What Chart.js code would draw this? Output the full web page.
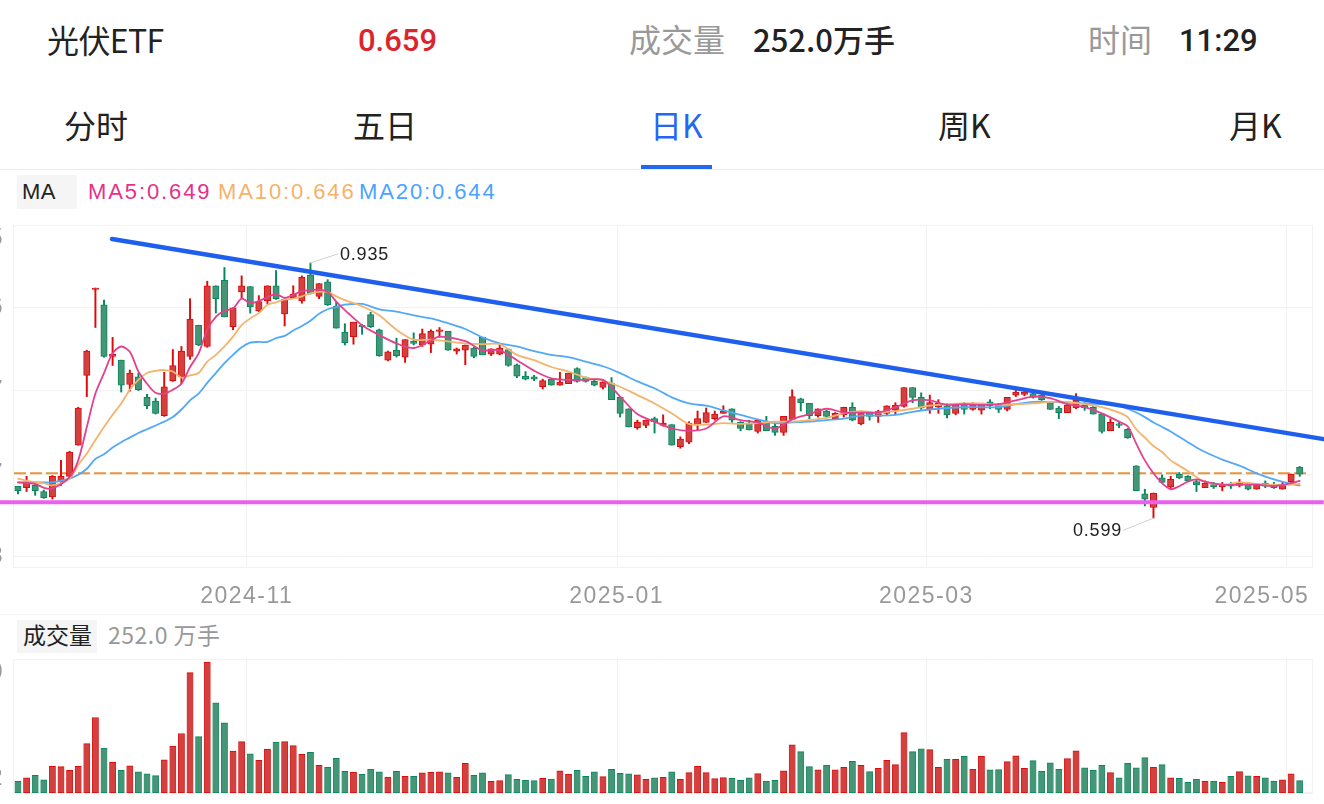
<!DOCTYPE html>
<html>
<head>
<meta charset="utf-8">
<title>光伏ETF</title>
<script src="https://cdn.jsdelivr.net/npm/chart.js@4/dist/chart.umd.min.js"></script>
<style>
html, body { margin: 0; padding: 0; background: #fff; }
body { width: 1324px; height: 804px; overflow: hidden; position: relative; font-family: "Noto Sans CJK SC", "Liberation Sans", sans-serif; }
canvas { position: absolute; left: -60px; }
#kChart { top: 185px; }
#volChart { top: 619px; }
.t { position: absolute; white-space: nowrap; line-height: 1; }
.big { font-size: 32px; color: #222; }
.grey { color: #999; }
.num { font-family: Roboto, sans-serif; font-weight: 500; font-size: 31px; }
.latin { font-family: "Liberation Sans", sans-serif; letter-spacing: 1.9px; font-size: 22px; }
.mark { font-size: 18px; font-family: "Liberation Sans", sans-serif; letter-spacing: 0.8px; color: #222; }
.box { position: absolute; background: #f5f5f5; }
.rule { position: absolute; left: 0; width: 1324px; height: 1px; }
</style>
</head>
<body>
<div class="t big" style="left:47px;top:23px;letter-spacing:-0.6px">光伏ETF</div>
<div class="t big num" style="left:358px;top:25px;color:#d9262c">0.659</div>
<div class="t big grey" style="left:629px;top:22px">成交量</div>
<div class="t big" style="left:753px;top:23px;font-weight:500;font-size:31px">252.0万手</div>
<div class="t big grey" style="left:1088px;top:22px">时间</div>
<div class="t big num" style="left:1179px;top:25px">11:29</div>

<div class="t big" style="left:64px;top:108px">分时</div>
<div class="t big" style="left:353px;top:108px">五日</div>
<div class="t big" style="left:650px;top:108px;color:#2468f2">日K</div>
<div class="t big" style="left:938px;top:108px">周K</div>
<div class="t big" style="left:1229px;top:108px">月K</div>
<div style="position:absolute;left:641px;top:165px;width:71px;height:4px;background:#2468f2"></div>
<div class="rule" style="top:169px;background:#ececec"></div>
<div class="rule" style="top:614px;background:#f3f3f3"></div>

<div class="box" style="left:17px;top:175px;width:60px;height:34px"></div>
<div class="t latin" style="left:22px;top:181px;color:#222;letter-spacing:0.5px">MA</div>
<div class="t latin" style="left:88px;top:181px;color:#e6308a">MA5:0.649</div>
<div class="t latin" style="left:218px;top:181px;color:#f5b26b">MA10:0.646</div>
<div class="t latin" style="left:359px;top:181px;color:#4aa3ff">MA20:0.644</div>

<div class="box" style="left:17px;top:620px;width:80px;height:33px"></div>
<div class="t" style="left:23px;top:623px;font-size:23px;color:#222">成交量</div>
<div class="t" style="left:108px;top:623px;font-size:23px;color:#999;letter-spacing:0.5px">252.0 万手</div>

<canvas id="kChart" width="1384" height="435"></canvas>
<canvas id="volChart" width="1384" height="215"></canvas>

<div class="t mark" style="left:340px;top:245px">0.935</div>
<div class="t mark" style="left:1073px;top:521px">0.599</div>

<script>
//daily candles, oldest first
const opens = [0.641,0.639,0.642,0.634,0.627,0.647,0.654,0.695,0.787,0.900,
    0.880,0.812,0.807,0.775,0.785,0.758,0.753,0.734,0.780,0.785,
    0.812,0.853,0.825,0.905,0.912,0.851,0.897,0.904,0.872,0.885,
    0.905,0.868,0.889,0.885,0.919,0.891,0.910,0.878,0.844,0.838,
    0.853,0.867,0.847,0.807,0.820,0.811,0.832,0.827,0.828,0.845,
    0.845,0.819,0.820,0.823,0.837,0.815,0.815,0.821,0.801,0.786,
    0.785,0.772,0.782,0.774,0.776,0.796,0.784,0.779,0.771,0.776,
    0.758,0.743,0.718,0.721,0.730,0.721,0.722,0.693,0.699,0.722,
    0.725,0.730,0.737,0.743,0.725,0.724,0.713,0.726,0.720,0.712,
    0.729,0.756,0.750,0.734,0.740,0.730,0.735,0.745,0.723,0.738,
    0.733,0.737,0.741,0.746,0.771,0.758,0.742,0.745,0.747,0.737,
    0.750,0.742,0.741,0.752,0.748,0.742,0.761,0.762,0.763,0.761,
    0.751,0.744,0.738,0.744,0.748,0.745,0.736,0.714,0.723,0.716,
    0.668,0.631,0.613,0.652,0.640,0.657,0.654,0.647,0.639,0.643,
    0.640,0.643,0.642,0.644,0.637,0.645,0.642,0.637,0.647,0.666];
const closes = [0.635,0.645,0.635,0.626,0.654,0.654,0.686,0.744,0.819,0.902,
    0.812,0.815,0.774,0.790,0.768,0.747,0.737,0.772,0.800,0.819,
    0.861,0.827,0.905,0.888,0.864,0.876,0.905,0.877,0.884,0.905,
    0.888,0.887,0.894,0.916,0.895,0.908,0.880,0.849,0.830,0.857,
    0.851,0.851,0.813,0.818,0.813,0.834,0.829,0.842,0.845,0.847,
    0.820,0.822,0.827,0.812,0.814,0.822,0.823,0.800,0.786,0.782,
    0.782,0.780,0.774,0.778,0.790,0.779,0.779,0.774,0.778,0.755,
    0.737,0.719,0.725,0.728,0.726,0.724,0.695,0.703,0.724,0.730,
    0.738,0.736,0.740,0.728,0.717,0.715,0.728,0.714,0.712,0.733,
    0.759,0.751,0.734,0.743,0.733,0.737,0.745,0.728,0.739,0.733,
    0.740,0.747,0.748,0.771,0.758,0.744,0.751,0.750,0.735,0.750,
    0.742,0.750,0.749,0.747,0.742,0.758,0.765,0.765,0.758,0.755,
    0.742,0.738,0.748,0.754,0.744,0.736,0.713,0.725,0.721,0.705,
    0.635,0.624,0.632,0.646,0.650,0.652,0.648,0.643,0.645,0.640,
    0.643,0.641,0.645,0.637,0.643,0.641,0.639,0.642,0.657,0.657];
const highs = [0.641,0.654,0.645,0.636,0.655,0.675,0.687,0.745,0.820,0.902,
    0.886,0.837,0.807,0.794,0.790,0.762,0.757,0.791,0.821,0.825,
    0.888,0.853,0.911,0.905,0.929,0.876,0.918,0.904,0.892,0.905,
    0.925,0.888,0.905,0.918,0.935,0.908,0.913,0.884,0.855,0.857,
    0.854,0.870,0.848,0.819,0.836,0.834,0.843,0.848,0.847,0.850,
    0.845,0.823,0.827,0.824,0.837,0.822,0.827,0.822,0.802,0.792,
    0.787,0.782,0.782,0.791,0.790,0.797,0.785,0.783,0.779,0.784,
    0.758,0.743,0.728,0.728,0.732,0.735,0.722,0.706,0.726,0.740,
    0.744,0.740,0.747,0.743,0.726,0.728,0.729,0.733,0.723,0.733,
    0.768,0.757,0.750,0.743,0.741,0.738,0.745,0.751,0.740,0.739,
    0.741,0.747,0.751,0.771,0.771,0.764,0.761,0.755,0.750,0.750,
    0.751,0.751,0.750,0.755,0.750,0.758,0.768,0.768,0.765,0.763,
    0.752,0.746,0.750,0.763,0.751,0.746,0.736,0.730,0.726,0.717,
    0.668,0.637,0.632,0.656,0.654,0.659,0.655,0.649,0.648,0.646,
    0.646,0.646,0.650,0.645,0.644,0.648,0.646,0.646,0.657,0.667];
const lows = [0.631,0.634,0.629,0.625,0.624,0.642,0.651,0.695,0.759,0.850,
    0.811,0.800,0.765,0.766,0.767,0.743,0.736,0.733,0.779,0.776,
    0.808,0.826,0.824,0.869,0.864,0.847,0.888,0.869,0.871,0.881,
    0.887,0.852,0.888,0.882,0.894,0.888,0.879,0.849,0.827,0.828,
    0.841,0.850,0.812,0.806,0.811,0.804,0.827,0.825,0.817,0.837,
    0.820,0.815,0.801,0.810,0.814,0.813,0.814,0.799,0.784,0.781,
    0.780,0.769,0.774,0.774,0.776,0.778,0.778,0.773,0.769,0.755,
    0.732,0.719,0.716,0.718,0.711,0.720,0.695,0.691,0.697,0.715,
    0.725,0.728,0.737,0.725,0.714,0.715,0.711,0.714,0.708,0.708,
    0.729,0.740,0.730,0.732,0.732,0.729,0.732,0.727,0.722,0.728,
    0.725,0.735,0.735,0.745,0.751,0.742,0.737,0.737,0.731,0.735,
    0.736,0.741,0.736,0.743,0.738,0.740,0.759,0.760,0.757,0.754,
    0.742,0.730,0.738,0.743,0.741,0.736,0.711,0.714,0.718,0.704,
    0.635,0.615,0.599,0.645,0.638,0.651,0.648,0.634,0.639,0.638,
    0.635,0.638,0.640,0.636,0.637,0.639,0.638,0.637,0.645,0.654];
//volume in 万手
const volumes = [240,308,363,267,547,539,465,547,1011,1544,
    916,629,465,554,431,390,355,677,957,1216,
    2460,1154,2679,1845,1435,855,1052,800,670,896,
    1039,1052,970,793,834,568,527,711,445,424,
    383,486,431,328,445,342,342,410,424,431,
    410,322,609,363,410,240,252,375,281,260,
    252,301,287,451,383,465,342,431,334,486,
    404,390,369,281,308,322,431,281,416,547,
    416,293,314,301,260,308,396,246,260,451,
    984,847,539,472,568,472,527,650,568,437,
    506,670,580,1236,847,902,888,527,691,691,
    752,486,752,472,478,642,759,506,662,445,
    615,486,703,861,513,465,568,416,308,609,
    513,724,527,580,308,301,219,287,246,246,
    219,342,437,349,342,308,246,267,390,252];

const maDays = [0,2,3,4,6,7,8,9,10,11,12,13,14,15,16,17,18,19,20,21,
    22,23,24,25,26,27,28,29,30,31,32,33,34,35,36,37,
    38,40,42,44,46,48,49,52,54,56,58,60,62,64,66,68,70,72,74,76,78,80,82,84,
    86,88,90,92,94,96,98,100,102,104,106,108,110,112,114,116,118,120,122,124,126,128,
    129,130,131,132,133,134,135,136,137,138,140,142,144,146,148,149];
const ma5 = [0.646,0.644,0.639,0.638,0.653,0.675,0.719,0.763,0.790,0.816,0.825,0.818,0.792,0.776,0.764,0.763,0.768,0.776,0.798,0.816,
    0.847,0.864,0.872,0.875,0.888,0.882,0.885,0.890,0.894,0.889,0.893,0.898,0.899,0.900,0.897,0.884,
    0.873,0.853,0.840,0.829,0.823,0.833,0.838,0.832,0.820,0.820,0.807,0.793,0.783,0.781,0.781,0.781,0.759,0.736,0.726,0.717,0.714,0.717,0.733,0.728,
    0.725,0.717,0.729,0.736,0.743,0.738,0.738,0.738,0.745,0.754,0.754,0.748,0.749,0.748,0.749,0.754,0.759,0.757,0.749,0.745,0.737,0.726,
    0.720,0.697,0.675,0.658,0.645,0.637,0.641,0.647,0.650,0.647,0.643,0.643,0.643,0.641,0.645,0.648];
const ma10 = [0.651,0.646,0.645,0.642,0.651,0.669,0.684,0.702,0.719,0.735,0.750,0.768,0.781,0.790,0.793,0.794,0.792,0.784,0.787,0.790,
    0.805,0.814,0.825,0.838,0.853,0.862,0.869,0.880,0.883,0.887,0.888,0.891,0.895,0.897,0.897,0.891,
    0.886,0.878,0.866,0.847,0.834,0.834,0.833,0.829,0.828,0.828,0.814,0.807,0.798,0.792,0.784,0.780,0.772,0.761,0.750,0.737,0.723,0.722,0.724,0.723,
    0.724,0.726,0.726,0.728,0.731,0.737,0.740,0.738,0.740,0.743,0.747,0.749,0.750,0.750,0.748,0.749,0.750,0.752,0.752,0.749,0.745,0.738,
    0.732,0.716,0.705,0.694,0.686,0.675,0.668,0.661,0.653,0.647,0.643,0.646,0.644,0.643,0.643,0.644];
const ma20 = [0.646,0.646,0.646,0.646,0.651,0.656,0.664,0.677,0.683,0.692,0.699,0.705,0.711,0.716,0.721,0.726,0.732,0.742,0.754,0.763,
    0.777,0.790,0.803,0.814,0.824,0.830,0.831,0.831,0.836,0.839,0.846,0.852,0.859,0.868,0.874,0.877,
    0.880,0.881,0.874,0.871,0.866,0.862,0.859,0.848,0.837,0.829,0.825,0.819,0.814,0.811,0.805,0.799,0.790,0.779,0.770,0.758,0.750,0.747,0.741,0.735,
    0.729,0.724,0.725,0.726,0.728,0.730,0.734,0.734,0.735,0.739,0.742,0.744,0.745,0.745,0.745,0.749,0.752,0.752,0.751,0.750,0.749,0.747,
    0.743,0.738,0.732,0.725,0.719,0.713,0.706,0.699,0.692,0.686,0.676,0.668,0.658,0.650,0.644,0.642];

//hand drawn lines on the screenshot: day, price
const trendDays = [10.93,151.8];
const trendPrices = [0.9665,0.703];
const supportDays = [-2.1,151.8];
const supportPrices = [0.620,0.620];
const resistDays = [-0.47,150.1];
const resistPrices = [0.658,0.658];
const highLeaderDays = [34,37.2];
const highLeaderPrices = [0.935,0.947];
const lowLeaderDays = [132,128.5];
const lowLeaderPrices = [0.599,0.583];

const priceTicks = [0.985,0.876,0.767,0.657,0.548];
const volTicks = [2740,2];
const dateLabels = ['2024-11','2025-01','2025-03','2025-05'];
const dateLabelDays = [26.6,69.6,105.6,144.6];
const monthGridDays = [26.6,69.7,105.6,147.5];

const xMin = -0.58, xMax = 150.43;
const RED = '#d2403f', RED_EDGE = '#de0a0a', GREEN = '#459676', GREEN_EDGE = '#08875e';
const GRID = '#f2f2f2';
const TICK_FONT = {family: '"Liberation Sans"', size: 23};

const days = closes.map((c, i) => i);
const isUp = days.map(i => closes[i] >= opens[i]);
const fills = isUp.map(up => up ? RED : GREEN);
const edges = isUp.map(up => up ? RED_EDGE : GREEN_EDGE);

function pts(xs, ys){
    return xs.map((x, i) => ({x: x, y: ys[i]}));
}

function lineSet(xs, ys, color, width, order, extra){
    return Object.assign({
        type: 'line',
        data: pts(xs, ys),
        borderColor: color,
        borderWidth: width,
        pointRadius: 0,
        order: order,
        clip: false,
        borderCapStyle: 'round'
    }, extra || {});
}

//Chart.js has no letter spacing option, the axis text in the picture is spaced out
const spacedText = {
    id: 'spacedText',
    beforeDraw(chart){ chart.ctx.letterSpacing = '1.5px'; }
};

function gridAxis(){
    return {
        type: 'linear', axis: 'x', position: 'bottom', min: xMin, max: xMax, offset: false,
        grid: {color: GRID, drawTicks: false, offset: false},
        border: {display: false},
        ticks: {display: false},
        afterBuildTicks(s){ s.ticks = [xMin].concat(monthGridDays, [xMax]).map(v => ({value: v})); },
        afterFit(s){ s.height = 0; }
    };
}

const kConfig = {
    type: 'bar',
    data: {
        datasets: [
            {
                data: days.map(i => ({x: i, y: [lows[i], highs[i]]})),
                backgroundColor: edges, barThickness: 1.3, grouped: false, order: 4
            },
            {
                data: days.map(i => ({x: i, y: [opens[i], closes[i]]})),
                backgroundColor: fills, borderColor: edges, borderWidth: 1,
                borderSkipped: false, barThickness: 6.4, grouped: false, order: 3
            },
            lineSet(maDays, ma5, '#e2418f', 1.8, 2, {tension: 0.3}),
            lineSet(maDays, ma10, '#f2b46e', 1.8, 2, {tension: 0.3}),
            lineSet(maDays, ma20, '#52a9f7', 1.8, 2, {tension: 0.3}),
            lineSet(trendDays, trendPrices, '#1f5fee', 4.5, 0),
            lineSet(supportDays, supportPrices, '#ea5fee', 4, 0, {borderCapStyle: 'butt'}),
            lineSet(resistDays, resistPrices, '#e8963c', 2, 5, {borderDash: [12, 4], borderCapStyle: 'butt'}),
            lineSet(highLeaderDays, highLeaderPrices, '#cfcfcf', 1, 1),
            lineSet(lowLeaderDays, lowLeaderPrices, '#cfcfcf', 1, 1)
        ]
    },
    options: {
        responsive: false,
        animation: false,
        events: [],
        layout: {padding: {top: 40, right: 12, left: 0, bottom: 0}},
        plugins: {legend: {display: false}, tooltip: {enabled: false}},
        scales: {
            x: {
                type: 'linear', position: 'bottom', min: xMin, max: xMax, offset: false,
                grid: {display: false, offset: false},
                border: {display: true, color: GRID},
                ticks: {
                    autoSkip: false, maxRotation: 0, minRotation: 0, padding: 8,
                    color: '#999', font: TICK_FONT,
                    callback: (v) => dateLabels[dateLabelDays.indexOf(v)]
                },
                afterBuildTicks(s){ s.ticks = dateLabelDays.map(v => ({value: v})); },
                afterFit(s){ s.height = 53; }
            },
            xGrid: gridAxis(),
            y: {
                min: 0.5346, max: 0.985,
                grid: {color: GRID, drawTicks: false},
                border: {display: false},
                ticks: {
                    autoSkip: false, padding: 9, color: '#999', font: TICK_FONT,
                    callback: (v) => v === 0.985 ? ['', v.toFixed(3)] : v.toFixed(3)
                },
                afterBuildTicks(s){ s.ticks = priceTicks.map(v => ({value: v})); },
                afterFit(s){ s.width = 73; }
            }
        }
    },
    plugins: [spacedText]
};

const volConfig = {
    type: 'bar',
    data: {
        datasets: [{
            data: days.map(i => ({x: i, y: volumes[i]})),
            backgroundColor: fills,
            borderColor: edges,
            borderWidth: {top: 1, left: 0.6, right: 0.6, bottom: 1},
            borderSkipped: false,
            barThickness: 6.2
        }]
    },
    options: {
        responsive: false,
        animation: false,
        events: [],
        layout: {padding: {top: 40, right: 12, left: 0, bottom: 41}},
        plugins: {legend: {display: false}, tooltip: {enabled: false}},
        scales: {
            x: {
                type: 'linear', position: 'bottom', min: xMin, max: xMax, offset: false,
                grid: {display: false, offset: false},
                border: {display: true, color: GRID},
                ticks: {display: false},
                afterFit(s){ s.height = 0; }
            },
            xGrid: gridAxis(),
            y: {
                min: 0, max: 2740,
                grid: {color: GRID, drawTicks: false},
                border: {display: false},
                ticks: {
                    autoSkip: false, padding: 9, color: '#999', font: TICK_FONT,
                    callback: (v) => v === 2740 ? ['', String(v)] : [String(v), '']
                },
                afterBuildTicks(s){ s.ticks = volTicks.map(v => ({value: v})); },
                afterFit(s){ s.width = 73; }
            }
        }
    },
    plugins: [spacedText]
};

new Chart(document.getElementById('kChart'), kConfig);
new Chart(document.getElementById('volChart'), volConfig);
</script>
</body>
</html>
